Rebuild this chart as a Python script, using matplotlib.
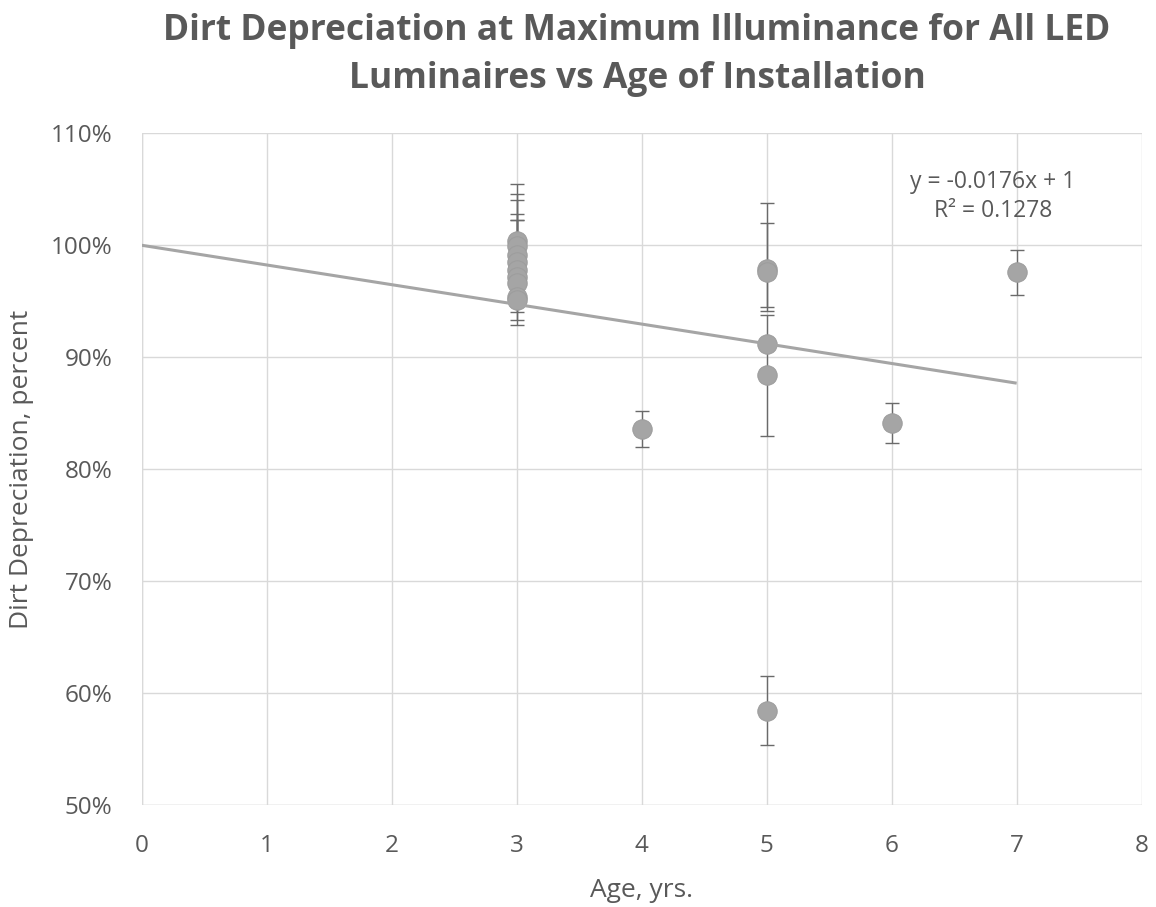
import matplotlib
matplotlib.use("Agg")
import matplotlib.pyplot as plt
import numpy as np
from matplotlib.ticker import FuncFormatter

# ---- data ----
age = [3, 3, 3, 3, 3, 3, 3, 3, 3,
       4,
       5, 5, 5, 5, 5,
       6,
       7]
depreciation = [1.004, 0.999, 0.991, 0.985, 0.978, 0.972, 0.966, 0.954, 0.951,
                0.836,
                0.979, 0.976, 0.912, 0.884, 0.584,
                0.841,
                0.976]
err_minus = [0.051, 0.047, 0.051, 0.056, 0.045, 0.025, 0.0, 0.0, 0.0,
             0.016,
             0.0375, 0.031, 0.0, 0.054, 0.030,
             0.018,
             0.020]
err_plus = [0.051, 0.047, 0.049, 0.043, 0.045, 0.051, 0.0, 0.0, 0.0,
            0.016,
            0.0406, 0.062, 0.0, 0.0534, 0.031,
            0.018,
            0.020]
trend_slope = -0.0176
trend_intercept = 1.0
trend_x = [0, 7]
r_squared = "0.1278"

x_ticks = [0, 1, 2, 3, 4, 5, 6, 7, 8]
y_ticks = [0.5, 0.6, 0.7, 0.8, 0.9, 1.0, 1.1]

title = "Dirt Depreciation at Maximum Illuminance for All LED\nLuminaires vs Age of Installation"
xlabel = "Age, yrs."
ylabel = "Dirt Depreciation, percent"

# ---- style ----
txt = "#595959"
grid_c = "#D9D9D9"
mark_c = "#A5A5A5"
font = ["Open Sans", "DejaVu Sans"]
plt.rcParams["font.family"] = font

fig = plt.figure(figsize=(11.56, 9.07), dpi=100)
ax = fig.add_axes([0.1226, 0.1125, 0.865, 0.7405])

# error bars only where non-zero
idx = [i for i in range(len(age)) if err_minus[i] > 0 or err_plus[i] > 0]
ax.errorbar([age[i] for i in idx], [depreciation[i] for i in idx],
            yerr=[[err_minus[i] for i in idx], [err_plus[i] for i in idx]],
            fmt="none", ecolor="#6A6A6A", elinewidth=1.0, capsize=4.8,
            capthick=1.0, zorder=2)
ax.plot(age, depreciation, linestyle="none", marker="o", markersize=14,
        markerfacecolor=mark_c, markeredgecolor="#9C9C9C", markeredgewidth=0.7, zorder=3)

tx = np.array(trend_x, dtype=float)
ax.plot(tx, trend_slope * tx + trend_intercept, color=mark_c, lw=2.2,
        solid_capstyle="butt", zorder=4)

ax.text(6.81, 1.0435, f"y = {trend_slope}x + {trend_intercept:g}\nR² = {r_squared}",
        ha="center", va="center", fontsize=16.5, color=txt, linespacing=1.25)

ax.set_xlim(0, 8)
ax.set_ylim(0.5, 1.1)
ax.set_xticks(x_ticks)
ax.set_yticks(y_ticks)
ax.yaxis.set_major_formatter(FuncFormatter(lambda v, p: f"{v*100:.0f}%"))
ax.grid(True, color=grid_c, lw=1.0)
ax.set_axisbelow(True)
for s in ax.spines.values():
    s.set_visible(False)
ax.axhline(0.5, color=grid_c, lw=1.0, zorder=1)
ax.axvline(0, color=grid_c, lw=1.0, zorder=1)
ax.tick_params(length=0, labelsize=17.5, labelcolor=txt)
ax.tick_params(axis="y", pad=21)
ax.tick_params(axis="x", pad=21)

ax.set_xlabel(xlabel, fontsize=19, color=txt, labelpad=14)
ax.set_ylabel(ylabel, fontsize=19, color=txt, labelpad=12)

fig.text(0.551, 1 - 13 / 907, title, ha="center", va="top", fontsize=25.5,
         fontweight="bold", color=txt, linespacing=1.45)

fig.savefig("out.png", dpi=100, facecolor="white")
